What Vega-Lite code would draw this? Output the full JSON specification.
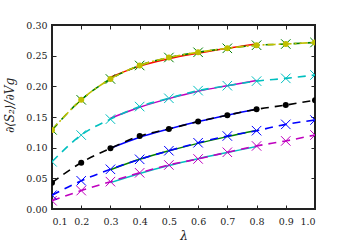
{
  "$schema": "https://vega.github.io/schema/vega-lite/v6.json",
  "width": 263,
  "height": 184,
  "autosize": {"type": "none"},
  "padding": {"left": 52, "top": 25, "right": 35, "bottom": 41},
  "background": "white",
  "config": {
    "view": {"stroke": "#222", "strokeWidth": 2},
    "font": "DejaVu Serif",
    "axis": {
      "grid": false, "domain": false, "tickColor": "#222", "tickSize": -4, "tickWidth": 1,
      "labelFont": "DejaVu Serif", "labelFontSize": 9.5, "labelColor": "#222",
      "titleFont": "DejaVu Serif", "titleFontWeight": "normal", "titleColor": "#222", "titleFontSize": 12
    }
  },
  "datasets": {
    "d": [
      {"curve": "A_g", "lambda": 0.1, "value": 0.129}, {"curve": "A_g", "lambda": 0.2, "value": 0.178}, {"curve": "A_g", "lambda": 0.3, "value": 0.212}, {"curve": "A_g", "lambda": 0.4, "value": 0.234}, {"curve": "A_g", "lambda": 0.5, "value": 0.247}, {"curve": "A_g", "lambda": 0.6, "value": 0.2555}, {"curve": "A_g", "lambda": 0.7, "value": 0.262}, {"curve": "A_g", "lambda": 0.8, "value": 0.267}, {"curve": "A_g", "lambda": 0.9, "value": 0.269}, {"curve": "A_g", "lambda": 1.0, "value": 0.2715},
      {"curve": "A_y", "lambda": 0.1, "value": 0.129}, {"curve": "A_y", "lambda": 0.2, "value": 0.178}, {"curve": "A_y", "lambda": 0.3, "value": 0.212}, {"curve": "A_y", "lambda": 0.4, "value": 0.234}, {"curve": "A_y", "lambda": 0.5, "value": 0.247}, {"curve": "A_y", "lambda": 0.6, "value": 0.2555}, {"curve": "A_y", "lambda": 0.7, "value": 0.262}, {"curve": "A_y", "lambda": 0.8, "value": 0.267}, {"curve": "A_y", "lambda": 0.9, "value": 0.269}, {"curve": "A_y", "lambda": 1.0, "value": 0.2715},
      {"curve": "A_r", "lambda": 0.3, "value": 0.215}, {"curve": "A_r", "lambda": 0.4, "value": 0.233}, {"curve": "A_r", "lambda": 0.5, "value": 0.245}, {"curve": "A_r", "lambda": 0.6, "value": 0.254}, {"curve": "A_r", "lambda": 0.7, "value": 0.262}, {"curve": "A_r", "lambda": 0.8, "value": 0.269},
      {"curve": "B_c", "lambda": 0.1, "value": 0.077}, {"curve": "B_c", "lambda": 0.2, "value": 0.1205}, {"curve": "B_c", "lambda": 0.3, "value": 0.1465}, {"curve": "B_c", "lambda": 0.4, "value": 0.167}, {"curve": "B_c", "lambda": 0.5, "value": 0.1805}, {"curve": "B_c", "lambda": 0.6, "value": 0.193}, {"curve": "B_c", "lambda": 0.7, "value": 0.201}, {"curve": "B_c", "lambda": 0.8, "value": 0.2085}, {"curve": "B_c", "lambda": 0.9, "value": 0.213}, {"curve": "B_c", "lambda": 1.0, "value": 0.2185},
      {"curve": "B_m", "lambda": 0.3, "value": 0.148}, {"curve": "B_m", "lambda": 0.4, "value": 0.166}, {"curve": "B_m", "lambda": 0.5, "value": 0.18}, {"curve": "B_m", "lambda": 0.6, "value": 0.192}, {"curve": "B_m", "lambda": 0.7, "value": 0.201}, {"curve": "B_m", "lambda": 0.8, "value": 0.2095},
      {"curve": "C_k", "lambda": 0.1, "value": 0.043}, {"curve": "C_k", "lambda": 0.2, "value": 0.0755}, {"curve": "C_k", "lambda": 0.3, "value": 0.099}, {"curve": "C_k", "lambda": 0.4, "value": 0.119}, {"curve": "C_k", "lambda": 0.5, "value": 0.1305}, {"curve": "C_k", "lambda": 0.6, "value": 0.1425}, {"curve": "C_k", "lambda": 0.7, "value": 0.153}, {"curve": "C_k", "lambda": 0.8, "value": 0.1625}, {"curve": "C_k", "lambda": 0.9, "value": 0.1695}, {"curve": "C_k", "lambda": 1.0, "value": 0.1775},
      {"curve": "C_b", "lambda": 0.3, "value": 0.099}, {"curve": "C_b", "lambda": 0.4, "value": 0.117}, {"curve": "C_b", "lambda": 0.5, "value": 0.1305}, {"curve": "C_b", "lambda": 0.6, "value": 0.1425}, {"curve": "C_b", "lambda": 0.7, "value": 0.153}, {"curve": "C_b", "lambda": 0.8, "value": 0.1625},
      {"curve": "D_b", "lambda": 0.1, "value": 0.0225}, {"curve": "D_b", "lambda": 0.2, "value": 0.046}, {"curve": "D_b", "lambda": 0.3, "value": 0.0647}, {"curve": "D_b", "lambda": 0.4, "value": 0.081}, {"curve": "D_b", "lambda": 0.5, "value": 0.095}, {"curve": "D_b", "lambda": 0.6, "value": 0.108}, {"curve": "D_b", "lambda": 0.7, "value": 0.119}, {"curve": "D_b", "lambda": 0.8, "value": 0.1277}, {"curve": "D_b", "lambda": 0.9, "value": 0.138}, {"curve": "D_b", "lambda": 1.0, "value": 0.145},
      {"curve": "D_g", "lambda": 0.3, "value": 0.064}, {"curve": "D_g", "lambda": 0.4, "value": 0.081}, {"curve": "D_g", "lambda": 0.5, "value": 0.095}, {"curve": "D_g", "lambda": 0.6, "value": 0.107}, {"curve": "D_g", "lambda": 0.7, "value": 0.118}, {"curve": "D_g", "lambda": 0.8, "value": 0.128},
      {"curve": "E_m", "lambda": 0.1, "value": 0.0135}, {"curve": "E_m", "lambda": 0.2, "value": 0.03}, {"curve": "E_m", "lambda": 0.3, "value": 0.0446}, {"curve": "E_m", "lambda": 0.4, "value": 0.059}, {"curve": "E_m", "lambda": 0.5, "value": 0.0718}, {"curve": "E_m", "lambda": 0.6, "value": 0.0816}, {"curve": "E_m", "lambda": 0.7, "value": 0.0925}, {"curve": "E_m", "lambda": 0.8, "value": 0.1028}, {"curve": "E_m", "lambda": 0.9, "value": 0.111}, {"curve": "E_m", "lambda": 1.0, "value": 0.1207},
      {"curve": "E_c", "lambda": 0.3, "value": 0.043}, {"curve": "E_c", "lambda": 0.4, "value": 0.058}, {"curve": "E_c", "lambda": 0.5, "value": 0.071}, {"curve": "E_c", "lambda": 0.6, "value": 0.082}, {"curve": "E_c", "lambda": 0.7, "value": 0.092}, {"curve": "E_c", "lambda": 0.8, "value": 0.102}
    ]
  },
  "data": {"name": "d"},
  "encoding": {
    "x": {"field": "lambda", "type": "quantitative", "scale": {"domain": [0.1, 1.0], "nice": false, "zero": false}},
    "y": {"field": "value", "type": "quantitative", "scale": {"domain": [0, 0.3], "nice": false}},
    "color": {
      "field": "curve", "type": "nominal", "legend": null,
      "scale": {
        "domain": ["A_g", "A_y", "A_r", "B_c", "B_m", "C_k", "C_b", "D_b", "D_g", "E_m", "E_c"],
        "range": ["#008000", "#bfbf00", "#ff0000", "#00bfbf", "#bf00bf", "#000000", "#0000ff", "#0000ff", "#008000", "#bf00bf", "#00bfbf"]
      }
    }
  },
  "layer": [
    {
      "transform": [{"filter": {"field": "curve", "oneOf": ["A_r", "B_m", "C_b", "D_g", "E_c"]}}],
      "mark": {"type": "line", "strokeWidth": 1.5, "interpolate": "monotone", "clip": true},
      "encoding": {
        "x": {"field": "lambda", "type": "quantitative", "title": "λ",
          "axis": {"orient": "bottom", "values": [0.1, 0.2, 0.3, 0.4, 0.5, 0.6, 0.7, 0.8, 0.9, 1.0], "format": ".1f", "labelPadding": 11, "titleFontStyle": "italic", "titlePadding": 5}},
        "y": {"field": "value", "type": "quantitative", "title": "∂⟨S₂⟩/∂Vg",
          "axis": {"orient": "left", "values": [0, 0.05, 0.1, 0.15, 0.2, 0.25, 0.3], "format": ".2f", "labelPadding": 9, "titleFontStyle": "italic", "titlePadding": 9, "titleY": 80}}
      }
    },
    {
      "transform": [{"filter": {"field": "curve", "oneOf": ["A_g", "A_y", "B_c", "C_k", "D_b", "E_m"]}}],
      "mark": {"type": "line", "strokeWidth": 1.6, "interpolate": "monotone", "clip": true},
      "encoding": {
        "x": {"field": "lambda", "type": "quantitative",
          "axis": {"orient": "top", "values": [0.1, 0.2, 0.3, 0.4, 0.5, 0.6, 0.7, 0.8, 0.9, 1.0], "labels": false, "title": null}},
        "y": {"field": "value", "type": "quantitative",
          "axis": {"orient": "right", "values": [0, 0.05, 0.1, 0.15, 0.2, 0.25, 0.3], "labels": false, "title": null}},
        "strokeDash": {
          "field": "curve", "type": "nominal", "legend": null,
          "scale": {"domain": ["A_g", "A_y", "B_c", "C_k", "D_b", "E_m"], "range": [[8, 6], [8, 3, 2, 3], [8, 6], [8, 6], [8, 6], [8, 6]]}
        }
      }
    },
    {
      "transform": [{"filter": {"field": "curve", "oneOf": ["A_g", "B_c", "D_b", "E_m"]}}],
      "mark": {"type": "point", "shape": "M -1 -1 L 1 1 M -1 1 L 1 -1", "filled": false, "size": 90, "strokeWidth": 1, "opacity": 1, "clip": true},
      "encoding": {
        "x": {"field": "lambda", "type": "quantitative", "axis": null},
        "y": {"field": "value", "type": "quantitative", "axis": null}
      }
    },
    {
      "transform": [{"filter": {"field": "curve", "oneOf": ["A_y", "C_k"]}}],
      "mark": {"type": "point", "shape": "circle", "filled": true, "size": 36, "opacity": 1, "clip": true},
      "encoding": {
        "x": {"field": "lambda", "type": "quantitative", "axis": null},
        "y": {"field": "value", "type": "quantitative", "axis": null}
      }
    }
  ],
  "resolve": {"axis": {"x": "independent", "y": "independent"}}
}
